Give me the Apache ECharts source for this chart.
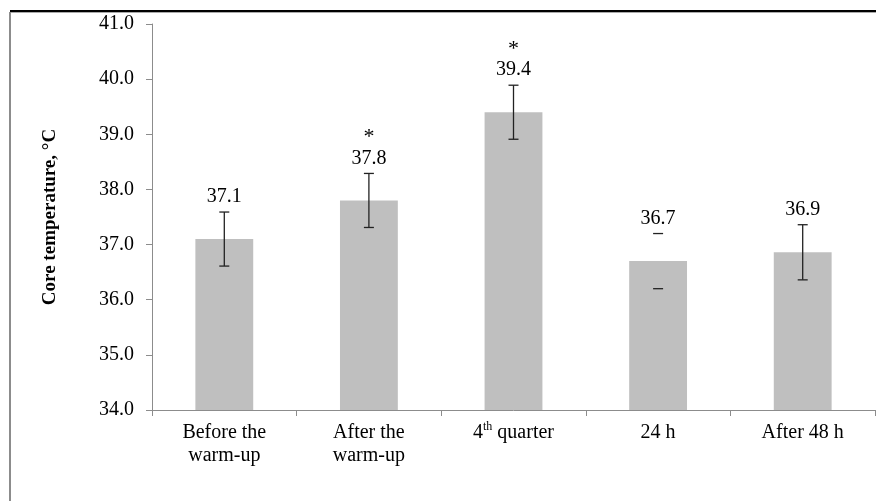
<!DOCTYPE html>
<html>
<head>
<meta charset="utf-8">
<script src="https://cdn.jsdelivr.net/npm/echarts@6/dist/echarts.min.js"></script>
<style>
html, body { margin: 0; padding: 0; background: #fff; }
#main { width: 876px; height: 501px; }
</style>
</head>
<body>
<div id="main"></div>
<script>
// data
var categories = ['Before the\nwarm-up', 'After the\nwarm-up', '{n|4}{sup|th}{n| quarter}', '24 h', 'After 48 h'];
var means = [37.1, 37.8, 39.4, 36.7, 36.86];
var sd = [0.49, 0.49, 0.49, 0.5, 0.5];
var stars = ['', '*', '*', '', ''];
var showStem = [true, true, true, false, true];
var yTicks = [34, 35, 36, 37, 38, 39, 40, 41];

var serif = '"Liberation Serif", "Times New Roman", serif';

var chart = echarts.init(document.getElementById('main'));

var errData = means.map(function (m, i) { return [i, m - sd[i], m + sd[i], m]; });

var option = {
    backgroundColor: '#fff',
    animation: false,
    grid: { left: 152, right: 1, top: 24, bottom: 91 },
    xAxis: {
        type: 'category',
        data: categories,
        axisLine: { lineStyle: { color: '#8c8c8c', width: 1 } },
        axisTick: { show: true, length: 6, lineStyle: { color: '#8c8c8c' } },
        axisLabel: {
            interval: 0,
            color: '#000', fontFamily: serif, fontSize: 20, lineHeight: 23, margin: 11,
            rich: {
                n: { fontFamily: serif, fontSize: 20, color: '#000' },
                sup: { fontFamily: serif, fontSize: 12, color: '#000', verticalAlign: 'top', padding: [0, 0, 6, 0] }
            }
        }
    },
    yAxis: {
        type: 'value',
        min: yTicks[0], max: yTicks[yTicks.length - 1], interval: 1,
        name: 'Core temperature, \u00B0C',
        nameLocation: 'middle', nameGap: 92, nameRotate: 90,
        nameTextStyle: { fontFamily: serif, fontSize: 19, fontWeight: 'bold', color: '#000' },
        axisLine: { show: true, lineStyle: { color: '#8c8c8c', width: 1 } },
        axisTick: { show: true, length: 6, lineStyle: { color: '#8c8c8c' } },
        splitLine: { show: false },
        axisLabel: {
            color: '#000', fontFamily: serif, fontSize: 20, margin: 18,
            formatter: function (v) { return v.toFixed(1); }
        }
    },
    series: [{
        type: 'bar',
        data: means,
        barWidth: '40%',
        itemStyle: { color: '#bfbfbf' }
    }, {
        type: 'custom',
        data: errData,
        z: 5,
        renderItem: function (params, api) {
            var i = api.value(0);
            var lo = api.coord([i, api.value(1)]);
            var hi = api.coord([i, api.value(2)]);
            var x = lo[0];
            var c = [];
            var st = { stroke: '#222', lineWidth: 1.3 };
            if (showStem[i]) {
                c.push({ type: 'line', shape: { x1: x, y1: hi[1], x2: x, y2: lo[1] }, style: st });
            }
            c.push({ type: 'line', shape: { x1: x - 5, y1: hi[1], x2: x + 5, y2: hi[1] }, style: st });
            c.push({ type: 'line', shape: { x1: x - 5, y1: lo[1], x2: x + 5, y2: lo[1] }, style: st });
            c.push({
                type: 'text',
                style: {
                    x: x, y: hi[1] - 15, text: api.value(3).toFixed(1),
                    textAlign: 'center', textVerticalAlign: 'middle',
                    font: '20px ' + serif, fill: '#000'
                }
            });
            if (stars[i]) {
                c.push({
                    type: 'text',
                    style: {
                        x: x, y: hi[1] - 36, text: stars[i],
                        textAlign: 'center', textVerticalAlign: 'middle',
                        font: '22px ' + serif, fill: '#000'
                    }
                });
            }
            return { type: 'group', children: c };
        }
    }],
    graphic: [
        { type: 'rect', shape: { x: 10, y: 10, width: 866, height: 2 }, style: { fill: '#000' } },
        { type: 'rect', shape: { x: 10, y: 12, width: 866, height: 1 }, style: { fill: '#aaa' } },
        { type: 'rect', shape: { x: 9, y: 12, width: 2, height: 489 }, style: { fill: '#8c8c8c' } }
    ]
};

chart.setOption(option);
</script>
</body>
</html>
